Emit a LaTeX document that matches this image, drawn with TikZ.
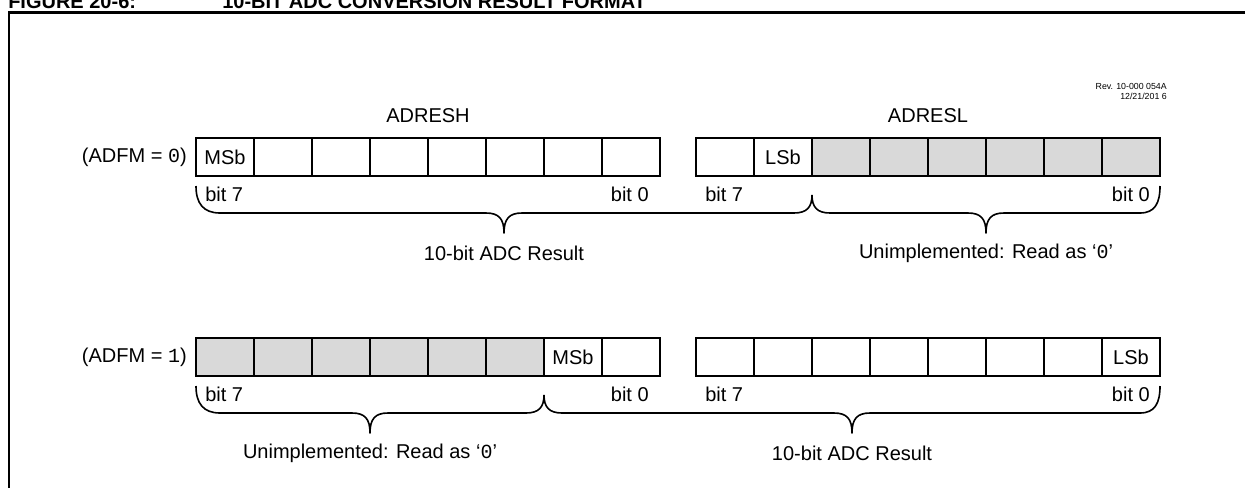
\documentclass[tikz,border=0pt]{standalone}
\usepackage{fontspec}
\setmainfont{Liberation Sans}
\newfontfamily\monof{Liberation Mono}
\definecolor{shade}{RGB}{217,217,217}
\tikzset{
  lbl/.style={font=\fontsize{15}{17}\selectfont, inner sep=0pt},
  ttl/.style={font=\bfseries\fontsize{15}{18}\selectfont, inner sep=0pt, anchor=base west},
  cell/.style={draw, line width=1.45pt, minimum width=43.5pt, minimum height=28.5pt, inner sep=0pt, font=\fontsize{15}{17}\selectfont},
  unimpl/.style={cell, fill=shade},
  bracel/.style={line width=1.2pt, line join=round},
  frameline/.style={line width=2.2pt}
}
\begin{document}
\begin{tikzpicture}[x=0.75pt,y=-0.75pt]
\useasboundingbox (0,0) rectangle (1245,487);
\clip (0,0) rectangle (1245,487);

% title (cut off at top)
\node[ttl] (t1) at (8,8) {FIGURE 20-6:};
\node[ttl] (t2) at (222,8) {10-BIT ADC CONVERSION RESULT FORMAT};

% frame
\draw[frameline] (9,495) -- (9,12.5) -- (1255,12.5);

% revision
\node[font=\fontsize{6.6}{7.6}\selectfont, align=right, anchor=north east, inner sep=0pt] (rev) at (1167,83) {Rev. 10-000 054A\\12/21/201 6};

% register names
\node[lbl] (nh) at (428,116) {ADRESH};
\node[lbl] (nl) at (928,116) {ADRESL};

% ---------- row 1 (ADFM = 0) ----------
\node[lbl, anchor=east] (m0) at (187,157) {(ADFM = {\monof 0})};
\foreach \i in {0,...,7} \node[cell] (a\i) at ({225+58*\i},157) {};
\node[lbl] (a0l) at (a0) {MSb};
\foreach \i in {0,1} \node[cell] (b\i) at ({725+58*\i},157) {};
\foreach \i in {2,...,7} \node[unimpl] (b\i) at ({725+58*\i},157) {};
\node[lbl] (b1l) at (b1) {LSb};

\node[lbl, anchor=west] (a7t) at (205,194) {bit 7};
\node[lbl, anchor=east] (a0t) at (649,194) {bit 0};
\node[lbl, anchor=west] (b7t) at (705,194) {bit 7};
\node[lbl, anchor=east] (b0t) at (1150,194) {bit 0};

\draw[bracel] (196,186) .. controls (196,203) and (203,213) .. (220,213)
  -- (486,213) .. controls (499,213) and (504,219) .. (504,233)
  .. controls (504,219) and (509,213) .. (522,213)
  -- (794,213) .. controls (807,213) and (812,207) .. (812,195);
\draw[bracel] (812,195) .. controls (812,207) and (817,213) .. (830,213)
  -- (968,213) .. controls (981,213) and (986,219) .. (986,233)
  .. controls (986,219) and (991,213) .. (1004,213)
  -- (1140,213) .. controls (1155,213) and (1160,203) .. (1160,186);

\node[lbl] (r1a) at (504,253) {10-bit ADC Result};
\node[lbl] (r1b) at (986,253) {Unimplemented: Read as ‘{\monof 0}’};

% ---------- row 2 (ADFM = 1) ----------
\node[lbl, anchor=east] (m1) at (187,357) {(ADFM = {\monof 1})};
\foreach \i in {0,...,5} \node[unimpl] (c\i) at ({225+58*\i},357) {};
\foreach \i in {6,7} \node[cell] (c\i) at ({225+58*\i},357) {};
\node[lbl] (c6l) at (c6) {MSb};
\foreach \i in {0,...,7} \node[cell] (d\i) at ({725+58*\i},357) {};
\node[lbl] (d7l) at (d7) {LSb};

\node[lbl, anchor=west] (c7t) at (205,394) {bit 7};
\node[lbl, anchor=east] (c0t) at (649,394) {bit 0};
\node[lbl, anchor=west] (d7t) at (705,394) {bit 7};
\node[lbl, anchor=east] (d0t) at (1150,394) {bit 0};

\draw[bracel] (196,386) .. controls (196,403) and (203,413) .. (220,413)
  -- (352,413) .. controls (365,413) and (370,419) .. (370,433)
  .. controls (370,419) and (375,413) .. (388,413)
  -- (526,413) .. controls (539,413) and (544,407) .. (544,395);
\draw[bracel] (544,395) .. controls (544,407) and (549,413) .. (562,413)
  -- (834,413) .. controls (847,413) and (852,419) .. (852,433)
  .. controls (852,419) and (857,413) .. (870,413)
  -- (1140,413) .. controls (1155,413) and (1160,403) .. (1160,386);

\node[lbl] (r2a) at (370,453) {Unimplemented: Read as ‘{\monof 0}’};
\node[lbl] (r2b) at (852,453) {10-bit ADC Result};
\end{tikzpicture}
\end{document}
